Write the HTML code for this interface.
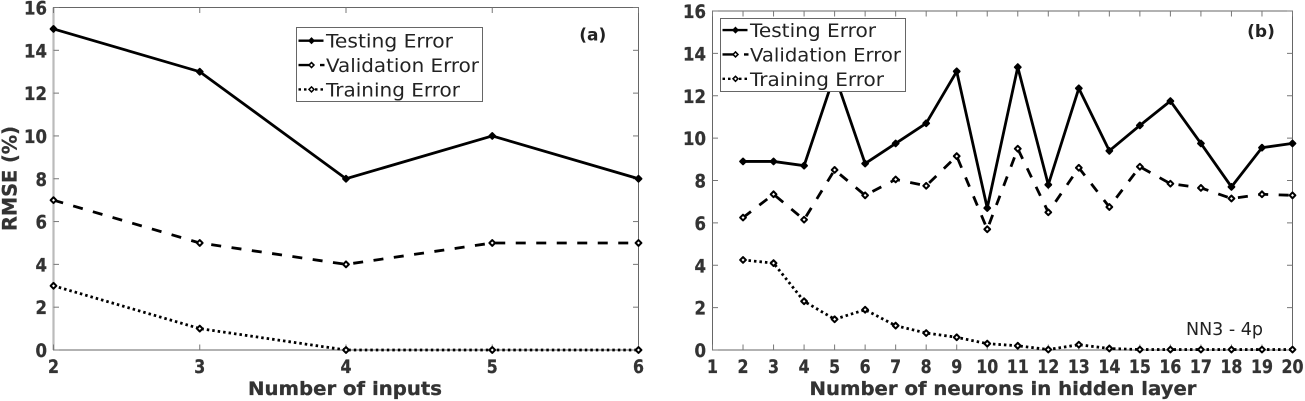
<!DOCTYPE html>
<html>
<head>
<meta charset="utf-8">
<style>
html,body{margin:0;padding:0;background:#fff;width:1305px;height:401px;overflow:hidden}
svg{display:block}
text{font-family:"DejaVu Sans","Liberation Sans",sans-serif}
.tick{font-size:19px;font-weight:bold;fill:#333;stroke:#333;stroke-width:.3}
.title{font-size:19px;font-weight:bold;fill:#333;stroke:#333;stroke-width:.3}
.leg{font-size:19px;fill:#222}
</style>
</head>
<body>
<svg id="fig" width="1305" height="401" viewBox="0 0 1305 401" xmlns="http://www.w3.org/2000/svg"></svg>
<script>
const inputsA = [2, 3, 4, 5, 6];
const testingA = [15, 13, 8, 10, 8];
const validationA = [7, 5, 4, 5, 5];
const trainingA = [3, 1, 0, 0, 0];
const neuronsB = [2, 3, 4, 5, 6, 7, 8, 9, 10, 11, 12, 13, 14, 15, 16, 17, 18, 19, 20];
const testingB = [8.9, 8.9, 8.7, 13, 8.8, 9.75, 10.7, 13.15, 6.7, 13.35, 7.8, 12.35, 9.4, 10.6, 11.75, 9.75, 7.7, 9.55, 9.75];
const validationB = [6.25, 7.35, 6.15, 8.5, 7.3, 8.05, 7.75, 9.15, 5.7, 9.5, 6.5, 8.6, 6.75, 8.65, 7.85, 7.65, 7.15, 7.35, 7.3];
const trainingB = [4.25, 4.1, 2.3, 1.45, 1.9, 1.15, 0.8, 0.6, 0.3, 0.2, 0.02, 0.25, 0.07, 0.02, 0.02, 0.02, 0.02, 0.02, 0.02];
const yTicks = [0, 2, 4, 6, 8, 10, 12, 14, 16];
const xTicksA = [2, 3, 4, 5, 6];
const xTicksB = [1, 2, 3, 4, 5, 6, 7, 8, 9, 10, 11, 12, 13, 14, 15, 16, 17, 18, 19, 20];
const seriesNames = ['Testing Error', 'Validation Error', 'Training Error'];

const NS = 'http://www.w3.org/2000/svg';
const fig = document.getElementById('fig');
function mk(tag, attrs, parent, txt) {
  const e = document.createElementNS(NS, tag);
  for (const k in attrs) e.setAttribute(k, attrs[k]);
  if (txt !== undefined) e.textContent = txt;
  (parent || fig).appendChild(e);
  return e;
}
const dashes = ['', '10 10.5', '2.5 3'];
const markFill = ['#000', '#fff', '#fff'];
function marker(g, x, y, i) {
  const r = 2.9;
  const m = mk('path', {d: 'M' + x + ' ' + (y - r) + 'L' + (x + r) + ' ' + y + 'L' + x + ' ' + (y + r) + 'L' + (x - r) + ' ' + y + 'Z', fill: markFill[i], stroke: '#000', 'stroke-width': 2, 'stroke-linejoin': 'round'}, g);
  
  
}
function panel(cfg) {
  const sx = v => cfg.x0 + (v - cfg.xMin) / (cfg.xMax - cfg.xMin) * (cfg.x1 - cfg.x0);
  const sy = v => cfg.y0 + (v / 16) * (cfg.y1 - cfg.y0);
  const g = mk('g', {}, fig);
  
  
  const frame = mk('rect', {x: cfg.x0, y: cfg.y1, width: cfg.x1 - cfg.x0, height: cfg.y0 - cfg.y1, fill: 'none', stroke: '#666', 'stroke-width': 1}, g);
  
  
  if (cfg.thickLeft) {
    const sp = mk('line', {x1: cfg.x0, x2: cfg.x0, y1: cfg.y1, y2: cfg.y0, stroke: '#bbb', 'stroke-width': 2.2}, g);
    
    
  }
  yTicks.forEach(v => {
    const y = sy(v);
    mk('line', {x1: cfg.x0, x2: cfg.x0 + 5.5, y1: y, y2: y, stroke: '#777'}, g);
    mk('line', {x1: cfg.x1, x2: cfg.x1 - 5.5, y1: y, y2: y, stroke: '#777'}, g);
    const t = mk('text', {x: cfg.x0 - 6.5, y: y + 7, 'text-anchor': 'end', class: 'tick', textLength: String(v).length > 1 ? 23 : 11.5, lengthAdjust: 'spacingAndGlyphs'}, g, v);
    
    
  });
  cfg.xTicks.forEach(v => {
    const x = sx(v);
    mk('line', {x1: x, x2: x, y1: cfg.y0, y2: cfg.y0 - 5.5, stroke: '#777'}, g);
    mk('line', {x1: x, x2: x, y1: cfg.y1, y2: cfg.y1 + 5.5, stroke: '#777'}, g);
    const t = mk('text', {x: x, y: 373, 'text-anchor': 'middle', class: 'tick', textLength: String(v).length > 1 ? 22 : 11, lengthAdjust: 'spacingAndGlyphs'}, g, v);
    
    
  });
  cfg.series.forEach((vals, i) => {
    const pts = vals.map((v, k) => sx(cfg.xs[k]) + ',' + sy(v)).join(' ');
    const attrs = {points: pts, fill: 'none', stroke: '#000', 'stroke-width': 2.8, 'stroke-linejoin': 'miter'};
    if (dashes[i]) attrs['stroke-dasharray'] = dashes[i];
    const pl = mk('polyline', attrs, g);
    
    
    vals.forEach((v, k) => marker(g, sx(cfg.xs[k]), sy(v), i));
  });
  const xt = mk('text', {x: cfg.xTitleX, y: 395, 'text-anchor': 'middle', class: 'title', textLength: cfg.xTitleW, lengthAdjust: 'spacingAndGlyphs'}, g, cfg.xTitle);
  
  
  const lab = mk('text', {x: cfg.labX, y: cfg.labY, 'text-anchor': 'middle', 'font-size': 17, 'font-weight': 'bold', fill: '#222'}, g, cfg.label);
  
  
  const L = cfg.legend;
  const lg = mk('g', {}, g);
  
  
  mk('rect', {x: L.x, y: L.y, width: L.w, height: L.h, fill: '#fff', stroke: '#666', 'stroke-width': 1}, lg);
  seriesNames.forEach((n, i) => {
    const yy = L.y + L.off + i * 24.35;
    if (i === 0) {
      mk('line', {x1: L.x + 2, x2: L.x + 27, y1: yy, y2: yy, stroke: '#000', 'stroke-width': 2.4}, lg);
    } else if (i === 1) {
      mk('line', {x1: L.x + 2, x2: L.x + 14, y1: yy, y2: yy, stroke: '#000', 'stroke-width': 2.4}, lg);
      mk('line', {x1: L.x + 23.5, x2: L.x + 28, y1: yy, y2: yy, stroke: '#000', 'stroke-width': 2.4}, lg);
    } else {
      mk('line', {x1: L.x + 2, x2: L.x + 28, y1: yy, y2: yy, stroke: '#000', 'stroke-width': 2.4, 'stroke-dasharray': '2.5 3'}, lg);
    }
    mk('path', {d: 'M' + (L.x + 15) + ' ' + (yy - 2.5) + 'l2.5 2.5l-2.5 2.5l-2.5 -2.5Z', fill: markFill[i], stroke: '#000', 'stroke-width': 1.5}, lg);
    const t = mk('text', {x: L.x + 29.5, y: yy + 7, class: 'leg', textLength: L.tw[i], lengthAdjust: 'spacingAndGlyphs'}, lg, n);
    
    
  });
}
panel({
  name: 'panel-a', x0: 53.5, x1: 638.5, y0: 350, y1: 7.5, xMin: 2, xMax: 6,
  xs: inputsA, xTicks: xTicksA, series: [testingA, validationA, trainingA], thickLeft: true,
  xTitle: 'Number of inputs', xTitleX: 345, xTitleW: 194,
  label: '(a)', labX: 592.8, labY: 40.5,
  legend: {x: 296.5, y: 27.5, w: 186, h: 74, off: 13.2, tw: [127, 153, 134]}
});
panel({
  name: 'panel-b', x0: 712.5, x1: 1292.5, y0: 350, y1: 11, xMin: 1, xMax: 20,
  xs: neuronsB, xTicks: xTicksB, series: [testingB, validationB, trainingB], thickLeft: false,
  xTitle: 'Number of neurons in hidden layer', xTitleX: 1003, xTitleW: 387,
  label: '(b)', labX: 1261, labY: 37,
  legend: {x: 720.5, y: 18.5, w: 185, h: 73, off: 11.6, tw: [126, 151, 134]}
});
const nn = mk('text', {x: 1186, y: 335, 'font-size': 18, fill: '#222', textLength: 77, lengthAdjust: 'spacingAndGlyphs'}, fig, 'NN3 - 4p');


const yl = mk('text', {x: 0, y: 0, transform: 'translate(16.5,178.5) rotate(-90)', 'text-anchor': 'middle', 'font-size': 19.5, 'font-weight': 'bold', fill: '#333', stroke: '#333', 'stroke-width': 0.3, textLength: 105, lengthAdjust: 'spacingAndGlyphs'}, fig, 'RMSE (%)');


</script>
</body>
</html>
